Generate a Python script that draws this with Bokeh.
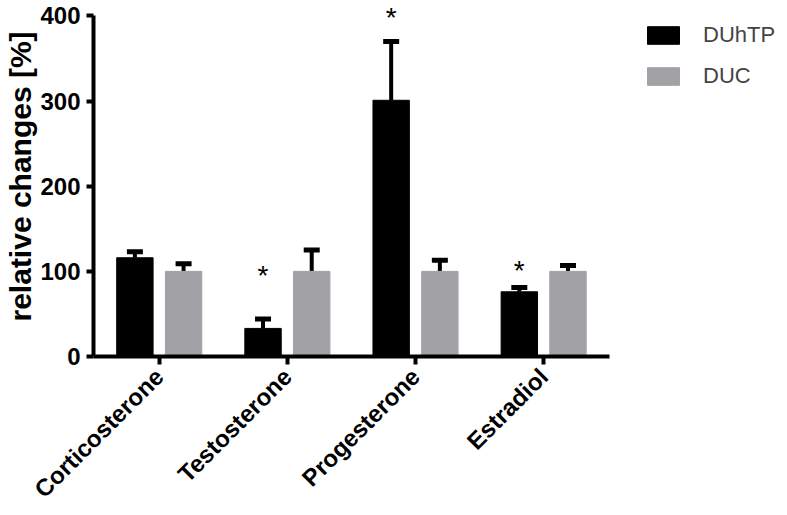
from math import pi
from bokeh.plotting import figure
from bokeh.models import ColumnDataSource, FixedTicker, Legend, LegendItem, Range1d, Title
from bokeh.core.properties import value
from bokeh.embed import file_html
from bokeh.resources import INLINE

# ---- data ----
categories = ["Corticosterone", "Testosterone", "Progesterone", "Estradiol"]
duhtp = [116, 33, 301, 76]
duhtp_err = [7, 11, 69, 5]
duc = [100, 100, 100, 100]
duc_err = [9, 25, 13, 7]
star_cats = [1, 2, 3]          # DUhTP significant
star_y = [102, 405, 108]
y_ticks = [0, 100, 200, 300, 400]

FONT = "Liberation Sans"
GRAY = "#a2a2a6"
OFF = 0.19
BW = 0.284

idx = list(range(len(categories)))
xb = [i - OFF for i in idx]
xg = [i + OFF for i in idx]

src_b = ColumnDataSource(dict(x=xb, top=duhtp, up=[v + e for v, e in zip(duhtp, duhtp_err)]))
src_g = ColumnDataSource(dict(x=xg, top=duc, up=[v + e for v, e in zip(duc, duc_err)]))

p = figure(width=787, height=515,
           x_range=Range1d(-0.513, 4.903), y_range=Range1d(0, 418.2),
           output_backend="svg", toolbar_location=None,
           min_border_left=90, min_border_right=0, min_border_top=0, min_border_bottom=157)
p.outline_line_color = None
p.xgrid.visible = False
p.ygrid.visible = False
p.background_fill_color = "white"

# error bars (upper only)
for src in (src_b, src_g):
    p.segment(x0="x", y0="top", x1="x", y1="up", source=src, line_width=4, line_color="black")
    p.rect(x="x", y="up", width=16, height=5, width_units="screen", height_units="screen",
           source=src, fill_color="black", line_color=None)

rb = p.vbar(x="x", top="top", width=BW, bottom=0, source=src_b, fill_color="black", line_color="black")
rg = p.vbar(x="x", top="top", width=BW, bottom=0, source=src_g, fill_color=GRAY, line_color=GRAY)

# significance stars
p.text(x=[xb[i] for i in star_cats], y=star_y, text=["*"] * len(star_cats),
       text_font=value(FONT), text_font_size="28px", text_align="center",
       text_baseline="middle", y_offset=6, text_color="black")

# axes
p.xaxis.ticker = FixedTicker(ticks=idx)
p.xaxis.bounds = (-0.513, 3.513)
p.xaxis.major_label_overrides = {i: c for i, c in zip(idx, categories)}
p.xaxis.major_label_orientation = pi / 4
p.xaxis.major_label_text_font = FONT
p.xaxis.major_label_text_font_style = "bold"
p.xaxis.major_label_text_font_size = "24px"
p.xaxis.major_label_text_color = "black"
p.xaxis.major_label_standoff = 8
p.xaxis.major_tick_out = 8
p.xaxis.major_tick_in = 0
p.xaxis.minor_tick_line_color = None
p.xaxis.axis_line_width = 4
p.xaxis.major_tick_line_width = 4

p.yaxis.ticker = FixedTicker(ticks=y_ticks)
p.yaxis.bounds = (0, 400)
p.yaxis.major_label_text_font = FONT
p.yaxis.major_label_text_font_style = "bold"
p.yaxis.major_label_text_font_size = "24px"
p.yaxis.major_label_text_color = "black"
p.yaxis.major_label_standoff = 6
p.yaxis.major_tick_out = 7
p.yaxis.major_tick_in = 0
p.yaxis.minor_tick_line_color = None
p.yaxis.axis_line_width = 4
p.yaxis.major_tick_line_width = 4

# y axis title
p.add_layout(Title(text="relative changes [%]", align="left", offset=35,
                   text_font=FONT, text_font_style="bold", text_font_size="30px",
                   text_color="black", standoff=2), "left")

legend = Legend(items=[LegendItem(label="DUhTP", renderers=[rb]),
                       LegendItem(label="DUC", renderers=[rg])],
                location=(550, 267), glyph_width=40, glyph_height=22, label_height=22,
                label_standoff=20, label_text_font=FONT, label_text_font_size="22px",
                label_text_baseline="middle", padding=0, margin=0, spacing=15,
                border_line_color=None, background_fill_alpha=0)
p.add_layout(legend)

open("out.html", "w").write(file_html(p, INLINE))
